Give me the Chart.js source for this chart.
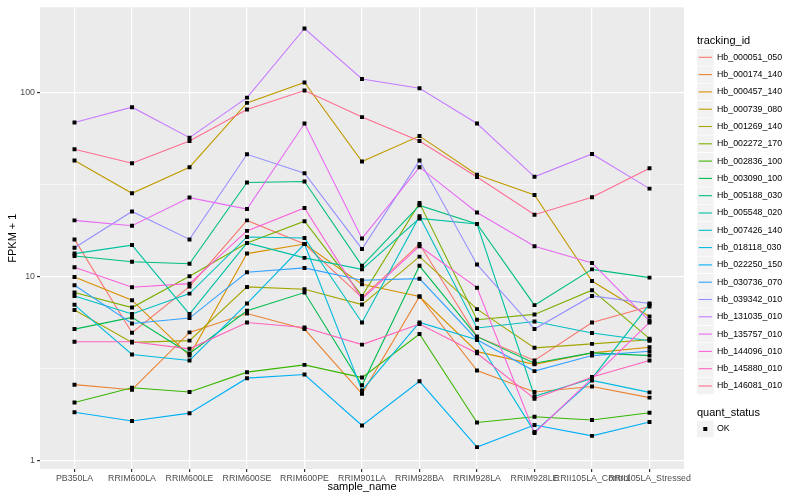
<!DOCTYPE html>
<html>
<head>
<meta charset="utf-8">
<script src="https://cdn.jsdelivr.net/npm/chart.js@4.4.0/dist/chart.umd.min.js"></script>
<style>
  body { margin: 0; background: #fff; }
</style>
</head>
<body>
<canvas id="fpkmChart" width="800" height="500"></canvas>
<script>
const categories = ['PB350LA', 'RRIM600LA', 'RRIM600LE', 'RRIM600SE', 'RRIM600PE', 'RRIM901LA',
  'RRIM928BA', 'RRIM928LA', 'RRIM928LE', 'RRII105LA_Control', 'RRII105LA_Stressed'];

const trackingIds = ['Hb_000051_050', 'Hb_000174_140', 'Hb_000457_140', 'Hb_000739_080', 'Hb_001269_140',
  'Hb_002272_170', 'Hb_002836_100', 'Hb_003090_100', 'Hb_005188_030', 'Hb_005548_020',
  'Hb_007426_140', 'Hb_018118_030', 'Hb_022250_150', 'Hb_030736_070', 'Hb_039342_010',
  'Hb_131035_010', 'Hb_135757_010', 'Hb_144096_010', 'Hb_145880_010', 'Hb_146081_010'];

const seriesColors = ['#F8766D', '#EA8331', '#D89000', '#C09B00', '#A3A500', '#7CAE00', '#39B600',
  '#00BB4E', '#00BF7D', '#00C1A3', '#00BFC4', '#00BAE0', '#00B0F6', '#35A2FF', '#9590FF',
  '#C77CFF', '#E76BF3', '#FA62DB', '#FF62BC', '#FF6C91'];

// FPKM + 1 per sample
const hb000051 = [16.0, 4.98, 8.87, 20.3, 15.1, 7.73, 15.1, 4.74, 3.52, 5.66, 6.91];
const hb000174 = [2.60, 2.44, 5.00, 6.33, 5.21, 2.32, 7.83, 3.10, 2.37, 2.54, 2.21];
const hb000457 = [10.0, 7.48, 3.74, 13.4, 15.1, 9.14, 7.83, 3.93, 3.35, 3.87, 4.15];
const hb000739 = [42.9, 28.5, 39.5, 88.3, 114, 42.4, 58.3, 35.9, 27.9, 9.51, 6.10];
const hb001269 = [6.61, 4.41, 4.51, 8.83, 8.58, 7.08, 12.9, 6.69, 4.12, 4.33, 4.56];
const hb002272 = [8.23, 6.82, 10.1, 15.3, 20.1, 7.89, 25.2, 5.86, 6.26, 8.48, 4.62];
const hb002836 = [2.08, 2.50, 2.37, 3.04, 3.33, 2.84, 4.90, 1.62, 1.74, 1.67, 1.83];
const hb003090 = [5.21, 6.03, 3.84, 6.55, 8.23, 2.58, 11.5, 4.74, 3.40, 3.87, 3.74];
const hb005188 = [13.0, 12.1, 11.8, 32.6, 33.0, 11.5, 24.5, 19.4, 7.03, 11.0, 9.92];
const hb005548 = [13.4, 14.9, 6.29, 15.3, 12.7, 11.0, 20.8, 19.4, 2.25, 2.81, 7.12];
const hb007426 = [7.89, 6.29, 8.12, 16.5, 16.3, 5.66, 21.4, 5.28, 5.73, 4.96, 4.50];
const hb018118 = [7.06, 3.79, 3.52, 7.17, 15.1, 2.42, 5.66, 4.56, 1.44, 2.74, 2.36];
const hb022250 = [1.84, 1.65, 1.82, 2.82, 2.95, 1.56, 2.71, 1.19, 1.57, 1.37, 1.63];
const hb030736 = [9.02, 5.59, 5.98, 10.6, 11.2, 9.60, 9.79, 4.56, 3.08, 3.74, 3.95];
const hb039342 = [14.4, 22.7, 16.0, 46.4, 36.6, 14.2, 42.9, 11.7, 5.21, 7.89, 7.17];
const hb131035 = [69.1, 83.7, 57.1, 94.3, 224, 119, 106, 68.2, 35.0, 46.6, 30.2];
const hb135757 = [20.3, 19.0, 27.0, 23.4, 68.2, 16.2, 39.5, 22.4, 14.7, 11.9, 5.78];
const hb144096 = [11.3, 8.80, 9.20, 17.8, 23.7, 7.58, 14.7, 8.75, 1.42, 2.81, 5.66];
const hb145880 = [4.45, 4.45, 4.07, 5.66, 5.32, 4.29, 5.55, 3.85, 2.18, 2.86, 3.52];
const hb146081 = [49.4, 41.5, 54.8, 81.2, 103, 73.9, 54.8, 34.9, 21.8, 27.1, 39.0];

const seriesValues = [hb000051, hb000174, hb000457, hb000739, hb001269, hb002272, hb002836,
  hb003090, hb005188, hb005548, hb007426, hb018118, hb022250, hb030736, hb039342,
  hb131035, hb135757, hb144096, hb145880, hb146081];

const yBreaks = [1, 10, 100];
const yMinorBreaks = [3.1623, 31.623];

const family = '"Liberation Sans", Arial, Helvetica, sans-serif';

// grey panel behind the grid, like theme_grey
const panelBg = {
  id: 'panelBg',
  beforeDraw(chart) {
    const { ctx, chartArea: a } = chart;
    ctx.save();
    ctx.fillStyle = '#EBEBEB';
    ctx.fillRect(a.left, a.top, a.right - a.left, a.bottom - a.top);
    ctx.restore();
  }
};

// ggplot style legends on the right
const sideLegend = {
  id: 'sideLegend',
  afterDraw(chart) {
    const ctx = chart.ctx;
    const x0 = chart.chartArea.right + 13;
    ctx.save();
    ctx.textAlign = 'left';
    ctx.textBaseline = 'middle';
    ctx.fillStyle = '#000';
    ctx.font = '11px ' + family;
    ctx.fillText('tracking_id', x0, 41);
    ctx.font = '8.8px ' + family;
    trackingIds.forEach((id, i) => {
      const cy = 57.3 + 17.3 * i;
      ctx.fillStyle = '#F2F2F2';
      ctx.fillRect(x0, cy - 8.3, 16.6, 16.6);
      ctx.strokeStyle = seriesColors[i];
      ctx.lineWidth = 1.1;
      ctx.beginPath();
      ctx.moveTo(x0 + 1.7, cy);
      ctx.lineTo(x0 + 14.9, cy);
      ctx.stroke();
      ctx.fillStyle = '#000';
      ctx.fillText(id, x0 + 20, cy);
    });
    ctx.font = '11px ' + family;
    ctx.fillText('quant_status', x0, 412.5);
    ctx.fillStyle = '#F2F2F2';
    ctx.fillRect(x0, 429 - 8.3, 16.6, 16.6);
    ctx.fillStyle = '#000';
    ctx.fillRect(x0 + 6.3, 427, 4, 4);
    ctx.font = '8.8px ' + family;
    ctx.fillText('OK', x0 + 20, 429);
    ctx.restore();
  }
};

const lineSets = seriesValues.map((vals, i) => ({
  label: trackingIds[i],
  data: vals.map((v, j) => ({ x: j, y: v })),
  borderColor: seriesColors[i],
  borderWidth: 1.1,
  pointRadius: 0,
  fill: false,
  tension: 0,
  order: 100 - i
}));

const pointSet = {
  label: 'OK',
  data: seriesValues.flatMap(vals => vals.map((v, j) => ({ x: j, y: v }))),
  showLine: false,
  pointStyle: 'rect',
  pointRadius: 2.8,
  pointBackgroundColor: '#000',
  pointBorderWidth: 0,
  order: 0
};

new Chart(document.getElementById('fpkmChart'), {
  type: 'line',
  data: { datasets: lineSets.concat([pointSet]) },
  plugins: [panelBg, sideLegend],
  options: {
    responsive: false,
    animation: false,
    layout: { padding: { left: 0, right: 116, top: 5, bottom: 0 } },
    plugins: { legend: { display: false }, tooltip: { enabled: false } },
    scales: {
      x: {
        type: 'linear',
        min: -0.6,
        max: categories.length - 0.4,
        afterBuildTicks: s => { s.ticks = categories.map((c, i) => ({ value: i })); },
        afterFit: s => { s.height = 31; },
        ticks: {
          callback: v => categories[v],
          autoSkip: false, maxRotation: 0, minRotation: 0,
          color: '#4D4D4D', font: { family, size: 8.8 }, padding: 1
        },
        grid: { color: '#FFFFFF', lineWidth: 1.2, tickColor: '#333333', tickLength: 3 },
        border: { display: false },
        title: { display: true, text: 'sample_name', color: '#000', font: { family, size: 11 },
          padding: { top: 0, bottom: 6 } }
      },
      y: {
        type: 'logarithmic',
        min: 0.905,
        max: 292,
        afterBuildTicks: s => {
          s.ticks = yBreaks.concat(yMinorBreaks).sort((a, b) => a - b).map(v => ({ value: v }));
        },
        afterFit: s => { s.width = 40; },
        ticks: {
          callback: v => yBreaks.includes(v) ? String(v) : '',
          color: '#4D4D4D', font: { family, size: 8.8 }, padding: 2
        },
        grid: {
          color: '#FFFFFF',
          lineWidth: c => yBreaks.includes(c.tick.value) ? 1.2 : 0.55,
          tickColor: c => yBreaks.includes(c.tick.value) ? '#333333' : 'rgba(0,0,0,0)',
          tickLength: 3
        },
        border: { display: false },
        title: { display: true, text: 'FPKM + 1', color: '#000', font: { family, size: 11 },
          padding: { top: 6, bottom: 0 } }
      }
    }
  }
});
</script>
</body>
</html>
